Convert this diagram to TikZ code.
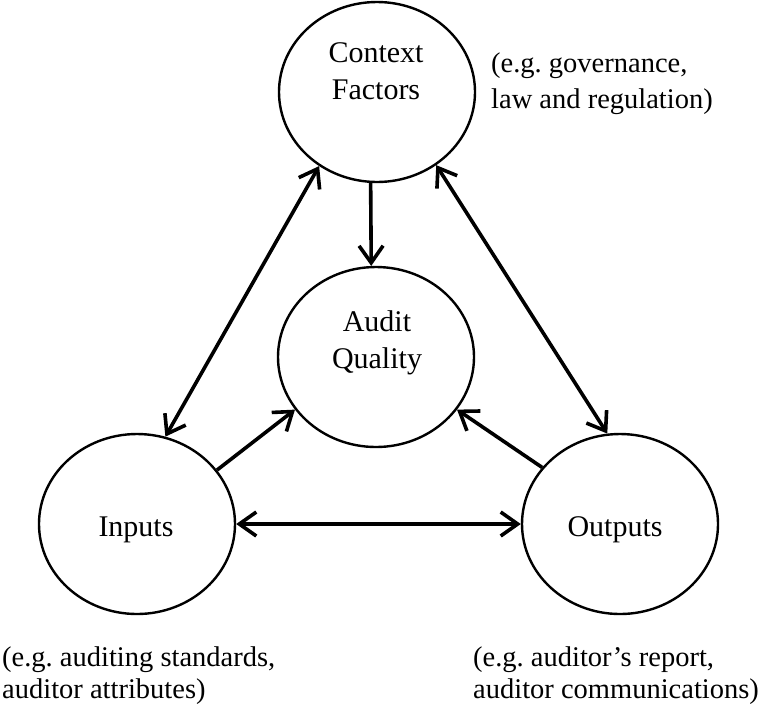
\documentclass[tikz,border=0pt]{standalone}
\usepackage{fontspec}
\setmainfont{Liberation Serif}
\usetikzlibrary{arrows.meta,shapes.geometric}
\frenchspacing
\begin{document}
\begin{tikzpicture}[x=1pt,y=-1pt,
  bubble/.style={draw=black,line width=2.4pt,ellipse,minimum width=196pt,minimum height=180pt,inner sep=0pt},
  label text/.style={font=\fontsize{30}{36.5}\selectfont,inner sep=0pt,align=center,anchor=base},
  note/.style={font=\fontsize{28.5}{36}\selectfont,inner sep=0pt,align=left,anchor=base west},
  tip/.tip={Straight Barb[length=17pt,width=24pt]},
  link/.style={line width=3.6pt,-tip},
  biglink/.style={line width=3.6pt,tip-tip}]
  \useasboundingbox (0,0) rectangle (767,705);

  % the four factors
  \node[bubble] (ctx) at (377,92) {};
  \node[bubble] (aq)  at (376,357) {};
  \node[bubble] (inp) at (137,524) {};
  \node[bubble] (out) at (620,524) {};

  % names inside the circles (anchored on the last line's baseline)
  \node[label text] (ctxt) at (376,99) {Context\\Factors};
  \node[label text] (aqt)  at (377,368) {Audit\\Quality};
  \node[label text] (inpt) at (136,536) {Inputs};
  \node[label text] (outt) at (615,536) {Outputs};

  % examples beside the circles
  \node[note] (ctxn) at (491,108) {(e.g. governance,\\law and regulation)};
  \node[note, font=\fontsize{28.5}{32}\selectfont] (inpn) at (2,698) {(e.g. auditing standards,\\auditor attributes)};
  \node[note, font=\fontsize{28.5}{32}\selectfont] (outn) at (473,698) {(e.g. auditor’s report,\\auditor communications)};

  % relations
  \draw[link] (ctx.-94.4) -- (aq.93.8);
  \draw[biglink] (inp.72.5) -- (ctx.-128.3);
  \draw[biglink] (out.98) -- (ctx.-51.3);
  \draw[link] (inp.34.7) -- (aq.213.4);
  \draw[link] (out.144) -- (aq.-33.9);
  \draw[biglink] (inp.east) -- (out.west);
\end{tikzpicture}
\end{document}
